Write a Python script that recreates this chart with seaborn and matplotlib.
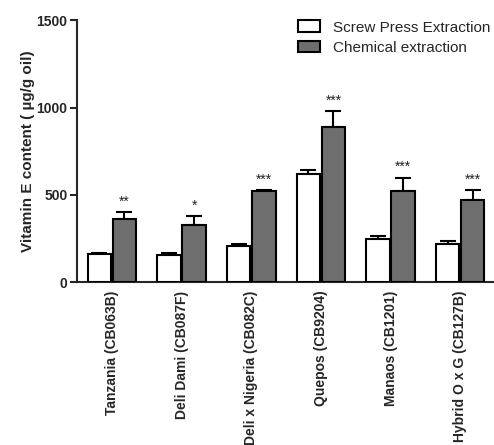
import numpy as np
import pandas as pd
import matplotlib
matplotlib.use("Agg")
import matplotlib.pyplot as plt
import seaborn as sns

# Oil palm varieties and vitamin E content (µg/g oil) by extraction method
varieties = ["Tanzania (CB063B)", "Deli Dami (CB087F)", "Deli x Nigeria (CB082C)",
             "Quepos (CB9204)", "Manaos (CB1201)", "Hybrid O x G (CB127B)"]
methods = ["Screw Press Extraction", "Chemical extraction"]
screw_mean = [160, 158, 208, 622, 250, 219]
screw_sem = [5, 10, 10, 19, 13, 14]
chem_mean = [364, 330, 521, 889, 523, 468]
chem_sem = [38, 48, 6, 92, 76, 59]
significance = ["**", "*", "***", "***", "***", "***"]

df = pd.DataFrame({
    "variety": varieties * 2,
    "method": [methods[0]] * len(varieties) + [methods[1]] * len(varieties),
    "value": screw_mean + chem_mean,
    "sem": screw_sem + chem_sem,
})

sns.set_style("ticks")
plt.rcParams["font.family"] = ["Liberation Sans", "DejaVu Sans"]

fig = plt.figure(figsize=(4.94, 4.45), dpi=100)
ax = fig.add_axes([0.156, 0.366, 0.846, 0.588])

palette = {methods[0]: "white", methods[1]: "#6e6e6e"}
sns.barplot(data=df, x="variety", y="value", hue="method", order=varieties,
            hue_order=methods, palette=palette, errorbar=None, width=0.72,
            gap=0.06, edgecolor="black", linewidth=1.5, ax=ax, zorder=3)

# upper-only SEM bars and significance stars above each group
for container, method in zip(ax.containers, methods):
    sub = df[df["method"] == method].set_index("variety").loc[varieties]
    xs = [p.get_x() + p.get_width() / 2 for p in container.patches]
    ax.errorbar(xs, sub["value"], yerr=[np.zeros(len(xs)), sub["sem"]],
                fmt="none", ecolor="black", elinewidth=1.5, capsize=5.5,
                capthick=1.5, zorder=2)
    if method == methods[1]:
        for x, v, e, s in zip(xs, sub["value"], sub["sem"], significance):
            ax.text(x, v + e + 20, s, ha="center", va="bottom",
                    fontsize=10, color="#222222")

ax.set_ylim(0, 1500)
ax.set_xlim(-0.5, 5.5)
ax.set_yticks([0, 500, 1000, 1500])
ax.set_xlabel("")
ax.set_ylabel("Vitamin E content ( µg/g oil)", fontsize=11, fontweight="bold",
              labelpad=1)
for lbl in ax.get_yticklabels():
    lbl.set_fontweight("bold")
ax.tick_params(axis="y", length=5, width=1.5, labelsize=10, pad=2)
ax.tick_params(axis="x", length=0, labelsize=10, pad=6)
ax.set_xticks(range(len(varieties)))
ax.set_xticklabels(varieties, rotation=90, fontweight="bold", va="top",
                   ha="center")
for side in ["left", "bottom"]:
    ax.spines[side].set_linewidth(1.5)
sns.despine(ax=ax)

handles, labels = ax.get_legend_handles_labels()
ax.legend(handles, labels, loc="upper left", bbox_to_anchor=(0.59, 0.968),
          bbox_transform=fig.transFigure, frameon=False, fontsize=11,
          handlelength=1.5, handleheight=0.8, handletextpad=0.8,
          labelspacing=0.4, borderaxespad=0.0)

fig.savefig("out.png", dpi=100)
